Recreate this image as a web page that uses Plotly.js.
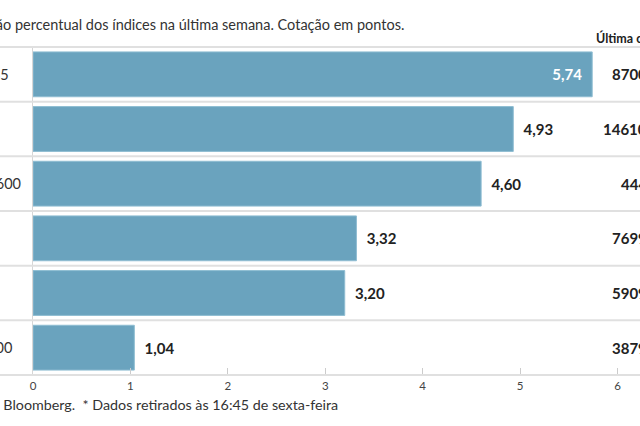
<!DOCTYPE html>
<html>
<head>
<meta charset="utf-8">
<script src="https://cdn.plot.ly/plotly-3.0.1.min.js"></script>
<style>
  html, body { margin: 0; padding: 0; overflow: hidden; background: #fff; }
  #wrap { position: relative; width: 640px; height: 426px; overflow: hidden; }
  #chart { position: absolute; left: -60px; top: 0; width: 760px; height: 426px; }
</style>
</head>
<body>
<div id="wrap"><div id="chart"></div></div>
<script>
// dados: variacao semanal (%) e ultima cotacao (pontos)
var indices = ['IBEX 35', 'DAX', 'Stoxx 600', 'FTSE', 'PSI', 'S&P 500'];
var variacao = [5.74, 4.93, 4.60, 3.32, 3.20, 1.04];
var cotacao = ['8700', '14610', '444', '7699', '5909', '3879'];
var tickVals = [0, 1, 2, 3, 4, 5, 6];

var titulo = 'Variação percentual dos índices na última semana. Cotação em pontos.';
var nota = 'Fonte: Bloomberg.  * Dados retirados às 16:45 de sexta-feira';
var cabecalho = 'Última cotação*';

var W = 760, H = 426;
var mL = 93, mR = 63, mT = 47, mB = 51;
var pw = W - mL - mR, ph = H - mT - mB;
var fonte = 'Lato, "Open Sans", sans-serif';

// converte pixel do grafico para coordenada paper
function px(x) { return (x - mL) / pw; }
function py(y) { return 1 - (y - mT) / ph; }

var n = indices.length;
var posicoes = variacao.map(function (v) { return v > 5.5 ? 'inside' : 'outside'; });
var textos = variacao.map(function (v, i) {
    return posicoes[i] === 'inside' ? '%{x:.2f}\u00a0\u00a0' : '\u00a0\u00a0%{x:.2f}';
});

var barras = {
    type: 'bar',
    orientation: 'h',
    x: variacao,
    y: indices,
    marker: { color: '#6aa3be', line: { color: '#8fbdd2', width: 1 } },
    texttemplate: textos,
    textposition: posicoes,
    insidetextanchor: 'end',
    insidetextfont: { family: fonte, size: 15, color: '#ffffff', weight: 'bold' },
    outsidetextfont: { family: fonte, size: 15, color: '#222222', weight: 'bold' },
    cliponaxis: false,
    hoverinfo: 'skip'
};

var shapes = [];
for (var k = 0; k <= n; k++) {
    shapes.push({
        type: 'line', xref: 'paper', yref: 'paper',
        x0: px(0), x1: px(W), y0: k / n, y1: k / n,
        line: { color: '#e0e0e0', width: 2 }
    });
}

var annotations = [];
// nomes dos indices, alinhados a esquerda
indices.forEach(function (nome, i) {
    annotations.push({
        xref: 'paper', yref: 'y', x: px(14.5), y: nome,
        xanchor: 'left', yanchor: 'middle', showarrow: false,
        text: nome, font: { family: fonte, size: 14.5, color: '#333333' }
    });
    annotations.push({
        xref: 'paper', yref: 'y', x: px(709), y: nome,
        xanchor: 'right', yanchor: 'middle', showarrow: false,
        text: cotacao[i], font: { family: fonte, size: 15, color: '#222222', weight: 'bold' }
    });
});
annotations.push({
    xref: 'paper', yref: 'paper', x: px(654), y: py(38),
    xanchor: 'left', yanchor: 'middle', showarrow: false,
    text: cabecalho, font: { family: fonte, size: 12.5, color: '#222222', weight: 'bold' }
});
annotations.push({
    xref: 'paper', yref: 'paper', x: px(15), y: py(25),
    xanchor: 'left', yanchor: 'middle', showarrow: false,
    text: titulo, font: { family: fonte, size: 14.5, color: '#333333' }
});
annotations.push({
    xref: 'paper', yref: 'paper', x: px(18), y: py(404),
    xanchor: 'left', yanchor: 'middle', showarrow: false,
    text: nota, font: { family: fonte, size: 14.3, color: '#333333' }
});

var layout = {
    width: W, height: H,
    margin: { l: mL, r: mR, t: mT, b: mB, pad: 0 },
    paper_bgcolor: '#ffffff', plot_bgcolor: '#ffffff',
    separators: ',.',
    showlegend: false,
    bargap: 0.18,
    font: { family: fonte, color: '#333333' },
    xaxis: {
        range: [0, 6.2], tickvals: tickVals, ticktext: tickVals.map(String),
        ticks: 'inside', ticklen: 7, tickcolor: '#cccccc', tickwidth: 1,
        showgrid: false, zeroline: false, showline: false, fixedrange: true,
        ticklabelstandoff: 2,
        tickfont: { family: fonte, size: 11.5, color: '#444444' }
    },
    yaxis: {
        autorange: false, range: [n - 0.5, -0.5], type: 'category',
        showticklabels: false, ticks: '', showgrid: false, zeroline: false,
        showline: true, linecolor: '#d6d6d6', linewidth: 1, fixedrange: true
    },
    shapes: shapes,
    annotations: annotations
};

Plotly.newPlot('chart', [barras], layout, { displayModeBar: false, staticPlot: true });
</script>
</body>
</html>
